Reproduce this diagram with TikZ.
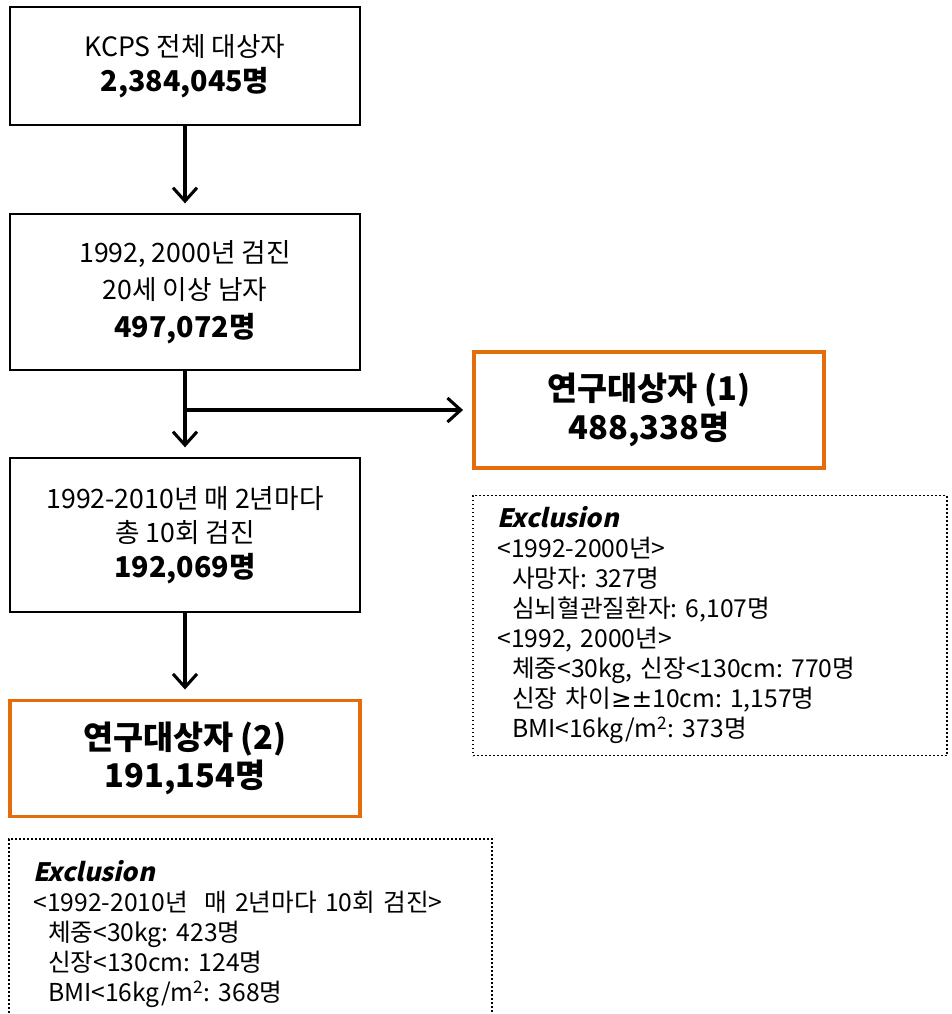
\documentclass[tikz,border=0pt]{standalone}
\usepackage{fontspec}
\setmainfont{Noto Sans CJK KR}
\newfontfamily\symfont{DejaVu Sans}
\usetikzlibrary{arrows.meta, positioning}
\definecolor{boxorange}{RGB}{228,108,10}

\newcommand{\numline}[1]{{\fontsize{21.5}{26}\selectfont\bfseries #1}}
\newcommand{\exindent}{\hspace*{11pt}}
\newcommand{\exhead}{{\bfseries\addfontfeatures{FakeSlant=0.22}\fontsize{19}{22.5}\selectfont Exclusion}}
\frenchspacing

\begin{document}
\begin{tikzpicture}[node distance=2cm,auto,
    flowbox/.style={draw, line width=2pt, rectangle, minimum width=262.5pt, align=center, font=\fontsize{20}{26}\selectfont},
    studybox/.style={draw=boxorange, line width=2.4pt, rectangle, minimum width=262.5pt, minimum height=87pt, align=center, font=\fontsize{24.5}{29}\selectfont\bfseries},
    exclbox/.style={draw, line width=1.4pt, dash pattern=on 1.4pt off 1.6pt, rectangle, align=left, inner xsep=18pt, font=\fontsize{18.5}{22.5}\selectfont},
    arrow/.style={line width=2.3pt, -{Straight Barb[length=10pt,width=18pt]}, shorten >=7pt}]
    \useasboundingbox (0,0) rectangle (713.25pt,-760.5pt);

    % Nodes
    \node (all) [flowbox, minimum height=88.5pt] at (138.75pt,-49.5pt) {KCPS 전체 대상자\\ \numline{2,384,045명}};
    \node (men) [flowbox, minimum height=117pt, below of=all, node distance=169.5pt] {1992, 2000년 검진\\[2pt] 20세 이상 남자\\[2pt] \numline{497,072명}};
    \node (exam) [flowbox, minimum height=115.5pt, below of=men, node distance=182.25pt] {1992-2010년 매 2년마다\\ 총 10회 검진\\ \numline{192,069명}};
    \node (study2) [studybox, below of=exam, node distance=167.6pt] {연구대상자 (2)\\ 191,154명};
    \coordinate [below of=men, node distance=88.5pt] (split);
    \node (study1) [studybox, right of=split, node distance=348pt] {연구대상자 (1)\\ 488,338명};

    % Exclusion notes
    \node (excl1) [exclbox, text width=319.5pt, minimum height=195pt, below=18.75pt of study1.south west, anchor=north west] {\exhead\\ <1992-2000년>\\ \exindent 사망자: 327명\\ \exindent 심뇌혈관질환자: 6,107명\\ <1992, 2000년>\\ \exindent 체중<30kg, 신장<130cm: 770명\\ \exindent 신장 차이{\symfont ≥±}10cm: 1,157명\\ \exindent BMI<16kg/m\textsuperscript{2}: 373명};
    \node (excl2) [exclbox, text width=326.25pt, minimum height=142.5pt, below=15pt of study2.south west, anchor=north west] {\exhead\\ <1992-2010년~ 매 2년마다 10회 검진>\\ \exindent 체중<30kg: 423명\\ \exindent 신장<130cm: 124명\\ \exindent BMI<16kg/m\textsuperscript{2}: 368명};

    % Connections
    \draw[arrow] (all) -- (men);
    \draw[arrow] (men) -- (exam);
    \draw[arrow] (split) -- (study1);
    \draw[arrow] (exam) -- (study2);
\end{tikzpicture}
\end{document}
